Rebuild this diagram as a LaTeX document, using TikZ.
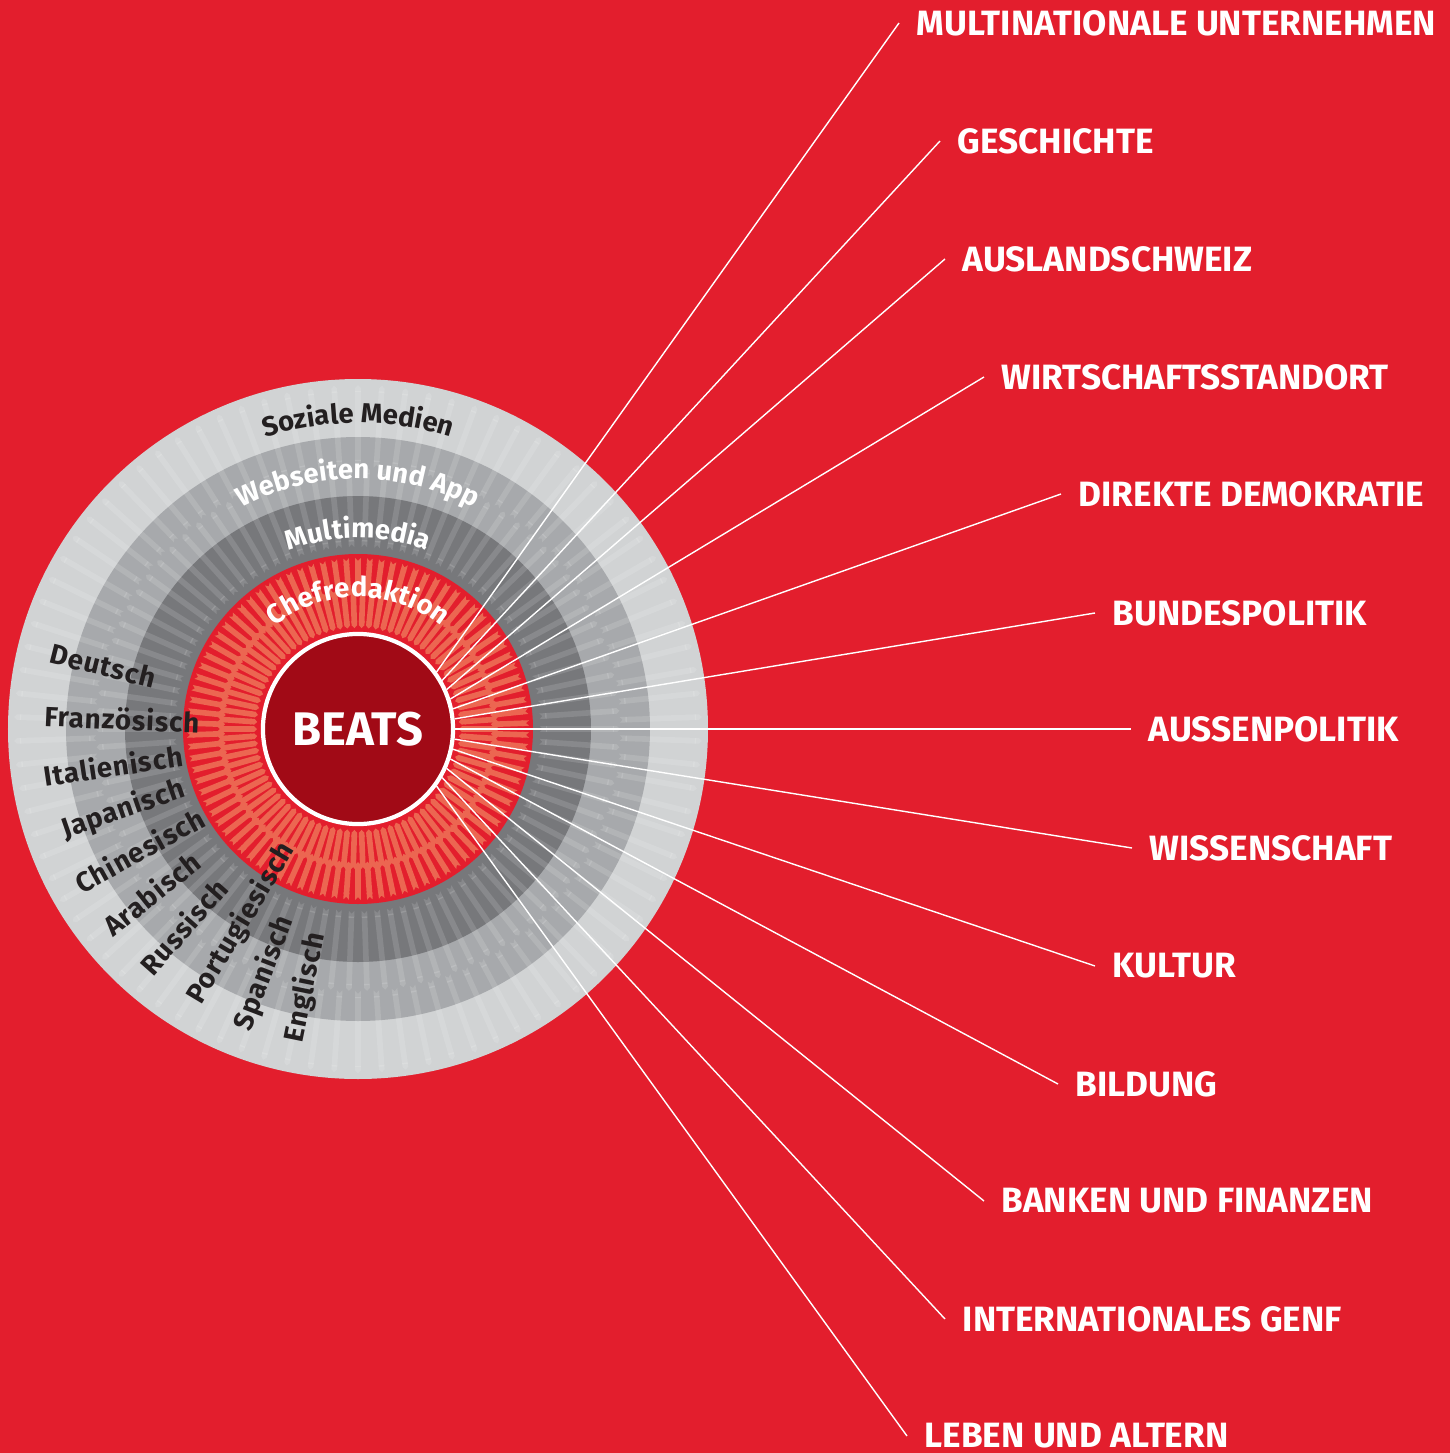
\documentclass[tikz,border=0pt]{standalone}
\usepackage{fontspec}
\setmainfont{Fira Sans}
\usetikzlibrary{arrows.meta,decorations.text}
\definecolor{BgRed}{HTML}{E31E2D}
\definecolor{BeatsRed}{HTML}{A10A16}
\definecolor{Salmon}{HTML}{EC6651}
\definecolor{RingDark}{HTML}{77787B}
\definecolor{RingMid}{HTML}{A7A9AC}
\definecolor{RingLight}{HTML}{D1D3D4}
\definecolor{TextDark}{HTML}{231F20}

\newcommand\ringfont{\fontsize{7.8}{9}\selectfont\bfseries}

\tikzset{
  topic/.style={anchor=west, inner xsep=0.17cm, inner ysep=0pt, text=white,
    font=\fontsize{10}{12}\selectfont\bfseries},
  lang/.style={anchor=east, inner sep=0pt, text=TextDark,
    font=\fontsize{7.9}{9}\selectfont\bfseries\addfontfeature{LetterSpace=3}},
  link/.style={draw=white, line width=0.4pt},
  spoke/.style={line width=1.6pt, {Triangle Cap[reversed]}-{Triangle Cap}},
  ringlabel/.style={decorate, decoration={text along path, text align=center,
    text color=#1}},
}

\begin{document}
\begin{tikzpicture}[x=0.01cm, y=0.01cm]
  % background
  \fill[BgRed] (-358,-724) rectangle (1092,729);
  \useasboundingbox (-358,-724) rectangle (1092,729);

  % grey rings, outside in
  \fill[RingLight] (0,0) circle (350);
  \fill[RingMid] (0,0) circle (292);
  \fill[RingDark] (0,0) circle (233);
  % faint arrows pointing outwards
  \foreach \a in {0,4,...,356} {
    \draw[spoke, white, opacity=0.13] (\a:182) -- (\a:262);
    \draw[spoke, white, opacity=0.13] (\a+2:262) -- (\a+2:344);
  }
  % red ring, arrows pointing inwards
  \fill[BgRed] (0,0) circle (175);
  \foreach \a in {0,4,...,356} {
    \draw[spoke, Salmon] (\a+2:171) -- (\a+2:133);
    \draw[spoke, Salmon] (\a:141) -- (\a:101);
  }

  % centre
  \node[circle, fill=BeatsRed, draw=white, line width=1.2pt, minimum size=1.9cm,
    inner sep=0pt, text=white, font=\fontsize{13.4}{15}\selectfont\bfseries]
    (beats) at (0,0) {BEATS};

  % ring names
  \path[ringlabel=TextDark, decoration={text={|\ringfont|Soziale Medien}}]
    (180:306) arc[start angle=180, end angle=0, radius=306];
  \path[ringlabel=white, decoration={text={|\ringfont|Webseiten und App}}]
    (180:250) arc[start angle=180, end angle=0, radius=250];
  \path[ringlabel=white, decoration={text={|\ringfont|Multimedia}}]
    (180:191) arc[start angle=180, end angle=0, radius=191];
  \path[ringlabel=white, decoration={text={|\ringfont|Chefredaktion}}]
    (180:132) arc[start angle=180, end angle=0, radius=132];

  % languages
  \node[lang, rotate=-14] (de) at (166:208) {Deutsch};
  \node[lang, rotate=-2.5] (fr) at (177.5:158) {Französisch};
  \node[lang, rotate=8.5] (it) at (188.5:177) {Italienisch};
  \node[lang, rotate=19] (ja) at (199:183) {Japanisch};
  \node[lang, rotate=29] (zh) at (209:178) {Chinesisch};
  \node[lang, rotate=38.5] (ar) at (218.5:206) {Arabisch};
  \node[lang, rotate=48.5] (ru) at (228.5:205) {Russisch};
  \node[lang, rotate=59] (pt) at (239:135) {Portugiesisch};
  \node[lang, rotate=69] (es) at (249:201) {Spanisch};
  \node[lang, rotate=78.5] (en) at (258.5:208) {Englisch};

  % topics
  \node[topic] (multi) at (541,706) {MULTINATIONALE UNTERNEHMEN};
  \node[topic] (gesch) at (582,588) {GESCHICHTE};
  \node[topic] (ausland) at (587,470) {AUSLANDSCHWEIZ};
  \node[topic] (wirt) at (626,352) {WIRTSCHAFTSSTANDORT};
  \node[topic] (demo) at (703,235) {DIREKTE DEMOKRATIE};
  \node[topic] (bund) at (737,116) {BUNDESPOLITIK};
  \node[topic] (aussen) at (773,0) {AUSSENPOLITIK};
  \node[topic] (wiss) at (774,-119) {WISSENSCHAFT};
  \node[topic] (kultur) at (737,-237) {KULTUR};
  \node[topic] (bildung) at (700,-355) {BILDUNG};
  \node[topic] (banken) at (626,-472) {BANKEN UND FINANZEN};
  \node[topic] (genf) at (587,-590) {INTERNATIONALES GENF};
  \node[topic] (leben) at (549,-707) {LEBEN UND ALTERN};

  % links from the centre
  \draw[link] (beats.36) -- (multi.west);
  \draw[link] (beats.30) -- (gesch.west);
  \draw[link] (beats.24) -- (ausland.west);
  \draw[link] (beats.18) -- (wirt.west);
  \draw[link] (beats.12) -- (demo.west);
  \draw[link] (beats.6) -- (bund.west);
  \draw[link] (beats.0) -- (aussen.west);
  \draw[link] (beats.-6) -- (wiss.west);
  \draw[link] (beats.-12) -- (kultur.west);
  \draw[link] (beats.-18) -- (bildung.west);
  \draw[link] (beats.-24) -- (banken.west);
  \draw[link] (beats.-30) -- (genf.west);
  \draw[link] (beats.-36) -- (leben.west);
\end{tikzpicture}
\end{document}
